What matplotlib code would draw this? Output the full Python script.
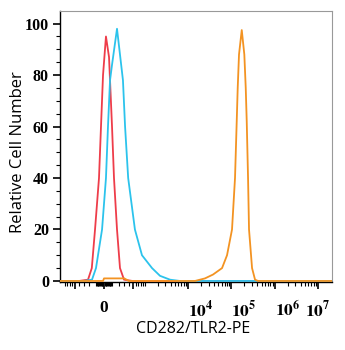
import numpy as np
import matplotlib
matplotlib.use("Agg")
import matplotlib.pyplot as plt
from matplotlib.ticker import FixedLocator, NullFormatter

# ---- data (fluorescence intensity, relative cell number) ----
red_x = [-1200, -400, -220, -160, -114, -62, -37, -12, 24, 62, 101, 128, 172, 220, 294, 500, 2.1e7]
red_y = [0, 0, 0.5, 5, 20, 40, 60, 80, 95, 87, 60, 40, 20, 5, 0.5, 0, 0]

cyan_x = [-1200, -300, -157, -101, -24, 24, 49, 75, 101, 172, 273, 315, 384, 573, 851, 1470, 2254, 3850, 6550, 2.1e7]
cyan_y = [0, 0, 0.5, 5, 20, 40, 60, 78, 84, 98, 78, 60, 40, 20, 10, 5, 2, 0.5, 0, 0]

orange_x = [-1200, -12, 0, 100, 300, 400, 14500, 24700, 37900, 61200, 79800, 104000, 122000,
            133600, 140800, 150900, 174600, 200200, 215800, 227500, 244000, 257000, 302000,
            354000, 415000, 2.1e7]
orange_y = [0, 0, 1, 1, 1, 0, 0, 1, 2.5, 5, 10, 20, 40,
            62, 75, 88, 97.5, 88, 75, 62, 40, 20, 5,
            0.5, 0, 0]

x_tick_vals = [0, 1e4, 1e5, 1e6, 1e7]
x_tick_labels = ["0", r"$\mathbf{10^4}$", r"$\mathbf{10^5}$", r"$\mathbf{10^6}$", r"$\mathbf{10^7}$"]
y_ticks = [0, 20, 40, 60, 80, 100]

C = 230.0
def fwd(x):
    return np.arcsinh(np.asarray(x, dtype=float) / C) / np.log(10)
def inv(y):
    return C * np.sinh(np.asarray(y, dtype=float) * np.log(10))

plt.rcParams['mathtext.fontset'] = 'stix'

fig = plt.figure(figsize=(3.45, 3.5), dpi=100)
ax = fig.add_axes([60/345, 68/350, 272/345, 271/350])

ax.plot(red_x, red_y, color="#ee3d4a", lw=1.3, zorder=3)
ax.plot(cyan_x, cyan_y, color="#2cc3ec", lw=1.3, zorder=4)
ax.plot(orange_x, orange_y, color="#f39322", lw=1.3, zorder=5)

ax.set_xscale('function', functions=(fwd, inv))
ax.set_xlim(-1183, 2.12e7)
ax.set_ylim(-0.4, 104.9)

# x ticks
major_x = [-500, 0, 500] + x_tick_vals[1:]
ax.xaxis.set_major_locator(FixedLocator(major_x))
ax.set_xticklabels(["", "0", ""] + x_tick_labels[1:])
minor_x = []
for m in range(1, 10):
    for k in (1, 2):
        v = m * 10**k
        if v < 500:
            minor_x += [v, -v]
for k in (3, 4, 5, 6):
    for m in range(1, 10):
        v = m * 10**k
        if v not in major_x and v < 2e7:
            minor_x.append(v)
for v in (600, 700, 800, 900, -600, -700, -800, -900):
    minor_x.append(v)
ax.xaxis.set_minor_locator(FixedLocator(minor_x))
ax.xaxis.set_minor_formatter(NullFormatter())

ax.yaxis.set_major_locator(FixedLocator(y_ticks))
ax.yaxis.set_minor_locator(FixedLocator([v for v in range(0, 105, 5) if v % 20]))

ax.tick_params(axis='x', which='major', direction='out', length=5, width=1.2, pad=8, labelsize=12.5)
ax.tick_params(axis='x', which='minor', direction='out', length=3, width=0.8)
ax.tick_params(axis='y', which='major', direction='out', length=5, width=1.2, pad=3)
ax.tick_params(axis='y', which='minor', direction='out', length=3, width=0.8)

for lbl in ax.get_yticklabels():
    lbl.set_fontfamily('Liberation Serif')
    lbl.set_fontweight('bold')
    lbl.set_fontsize(11.5)

xl = ax.get_xticklabels()
for i, lbl in enumerate(xl):
    lbl.set_fontfamily('Liberation Serif')
    lbl.set_fontweight('bold')
    if i in (3, 4, 5):
        lbl.set_horizontalalignment('left')

for s in ('top', 'right'):
    ax.spines[s].set_color('#999999')
    ax.spines[s].set_linewidth(0.8)
for s in ('left', 'bottom'):
    ax.spines[s].set_color('black')
    ax.spines[s].set_linewidth(1.0)

ax.set_xlabel("CD282/TLR2-PE", fontfamily='Open Sans', fontsize=11.5)
ax.set_ylabel("Relative Cell Number", fontfamily='Open Sans', fontsize=12)
ax.xaxis.set_label_coords(0.49, -0.143)
ax.yaxis.set_label_coords(-0.125, 0.48)

fig.savefig("out.png", dpi=100)
